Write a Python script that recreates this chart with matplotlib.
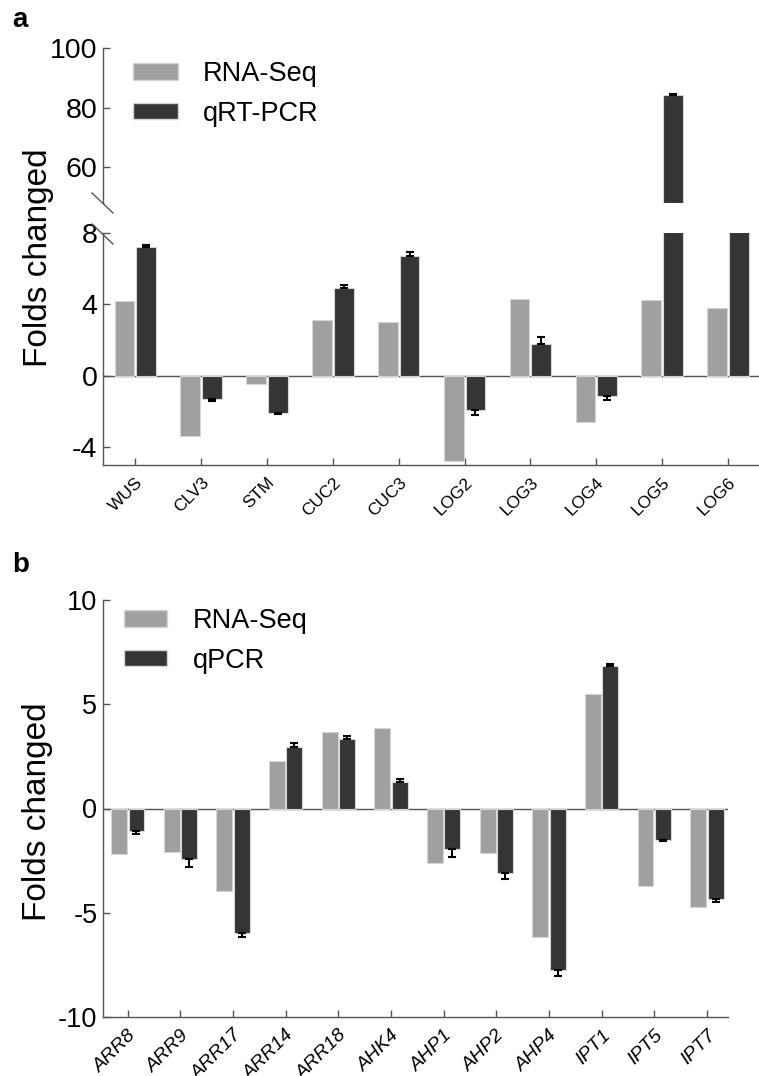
import matplotlib.pyplot as plt
from matplotlib.patches import Patch
from matplotlib.lines import Line2D

plt.rcParams['font.family'] = ['Liberation Sans', 'DejaVu Sans']
plt.rcParams['axes.unicode_minus'] = False

# panel a data
genes_a = ['WUS', 'CLV3', 'STM', 'CUC2', 'CUC3', 'LOG2', 'LOG3', 'LOG4', 'LOG5', 'LOG6']
rnaseq_a = [4.2, -3.4, -0.45, 3.1, 3.0, -4.8, 4.3, -2.6, 4.25, 3.8]
qrtpcr_a = [7.2, -1.3, -2.1, 4.9, 6.7, -1.9, 1.8, -1.15, 84.1, 20.0]
err_a = [0.1, 0.1, 0.07, 0.2, 0.25, 0.3, 0.35, 0.22, 0.4, 0.0]

# panel b data
genes_b = ['ARR8', 'ARR9', 'ARR17', 'ARR14', 'ARR18', 'AHK4', 'AHP1', 'AHP2',
           'AHP4', 'IPT1', 'IPT5', 'IPT7']
rnaseq_b = [-2.2, -2.1, -3.95, 2.27, 3.65, 3.86, -2.63, -2.13, -6.14, 5.47, -3.73, -4.74]
qpcr_b = [-1.1, -2.4, -5.95, 2.97, 3.32, 1.27, -1.94, -3.08, -7.74, 6.84, -1.52, -4.34]
err_b = [0.12, 0.4, 0.2, 0.17, 0.14, 0.14, 0.4, 0.3, 0.29, 0.08, 0.06, 0.13]

light = '#a0a0a0'
dark = '#353535'
edge = '#d5d5d5'
axcol = '#555555'
w = 0.3
off = 0.165

fig = plt.figure(figsize=(7.59, 10.76), dpi=100)


def draw_bars(ax, vals1, vals2, errs):
    x = list(range(len(vals1)))
    ax.bar([i - off for i in x], vals1, width=w, color=light, edgecolor=edge, linewidth=0.8, zorder=2)
    ax.bar([i + off for i in x], vals2, width=w, color=dark, edgecolor=edge, linewidth=0.8, zorder=2)
    # error bar only on the side away from zero
    lo = [e if v < 0 else 0 for v, e in zip(vals2, errs)]
    hi = [e if v >= 0 else 0 for v, e in zip(vals2, errs)]
    ax.errorbar([i + off for i in x], vals2, yerr=[lo, hi], fmt='none', ecolor='black',
                elinewidth=1.5, capsize=3.2, capthick=1.5, zorder=3)
    ax.axhline(0, color=axcol, lw=1.0, zorder=1)


def style(ax):
    for s in ['top', 'right']:
        ax.spines[s].set_visible(False)
    for s in ['left', 'bottom']:
        ax.spines[s].set_color(axcol)
        ax.spines[s].set_linewidth(1.0)
    ax.tick_params(direction='in', length=5, width=1, color=axcol)


# ---- panel a (broken axis) ----
ax_hi = fig.add_axes([103 / 759, 1 - 203 / 1076, 1 - 103 / 759, 155 / 1076])
ax_lo = fig.add_axes([103 / 759, 1 - 465 / 1076, 1 - 103 / 759, 232 / 1076])

for ax in (ax_hi, ax_lo):
    draw_bars(ax, rnaseq_a, qrtpcr_a, err_a)
    style(ax)
    ax.set_xlim(-0.49, 9.47)

ax_hi.set_ylim(48, 100)
ax_hi.set_yticks([60, 80, 100])
ax_hi.spines['bottom'].set_visible(False)
ax_hi.set_xticks([])
ax_hi.tick_params(axis='y', labelsize=20.5, pad=4)

ax_lo.set_ylim(-5, 8)
ax_lo.set_yticks([-4, 0, 4, 8])
ax_lo.tick_params(axis='y', labelsize=20.5, pad=4)
ax_lo.set_xticks(range(len(genes_a)))
ax_lo.set_xticklabels(genes_a, rotation=45, ha='right', rotation_mode='anchor', fontsize=12.5)
ax_lo.tick_params(axis='x', pad=7)

# break marks
for y0, y1 in [(193, 213), (224, 244)]:
    fig.add_artist(Line2D([92 / 759, 113 / 759], [1 - y0 / 1076, 1 - y1 / 1076],
                          transform=fig.transFigure, color=axcol, lw=1.0))

fig.legend(handles=[Patch(facecolor=light, edgecolor=edge, label='RNA-Seq'),
                    Patch(facecolor=dark, edgecolor=edge, label='qRT-PCR')],
           loc='upper left', bbox_to_anchor=(133 / 759, 1 - 61 / 1076), frameon=False,
           fontsize=19.5, handlelength=1.66, handleheight=0.55, handletextpad=0.92,
           labelspacing=0.5, borderpad=0, borderaxespad=0)

fig.text(39 / 759, 1 - 258 / 1076, 'Folds changed', rotation=90, ha='center', va='center', fontsize=24)
fig.text(12 / 759, 1 - 20 / 1076, 'a', fontsize=20, fontweight='bold', va='center')

# ---- panel b ----
ax_b = fig.add_axes([103 / 759, 1 - 1017 / 1076, (728 - 103) / 759, 417 / 1076])
draw_bars(ax_b, rnaseq_b, qpcr_b, err_b)
style(ax_b)
ax_b.set_xlim(-0.47, 11.4)
ax_b.set_ylim(-10, 10)
ax_b.set_yticks([-10, -5, 0, 5, 10])
ax_b.tick_params(axis='y', labelsize=19.5, pad=4)
ax_b.set_xticks(range(len(genes_b)))
ax_b.set_xticklabels(genes_b, rotation=45, ha='right', rotation_mode='anchor', fontsize=14, style='italic')
ax_b.tick_params(axis='x', pad=7)

fig.legend(handles=[Patch(facecolor=light, edgecolor=edge, label='RNA-Seq'),
                    Patch(facecolor=dark, edgecolor=edge, label='qPCR')],
           loc='upper left', bbox_to_anchor=(124 / 759, 1 - 608 / 1076), frameon=False,
           fontsize=19.5, handlelength=1.6, handleheight=0.55, handletextpad=0.95,
           labelspacing=0.5, borderpad=0, borderaxespad=0)

fig.text(38 / 759, 1 - 812 / 1076, 'Folds changed', rotation=90, ha='center', va='center', fontsize=24)
fig.text(12 / 759, 1 - 565 / 1076, 'b', fontsize=20, fontweight='bold', va='center')

fig.savefig('out.png', dpi=100)
